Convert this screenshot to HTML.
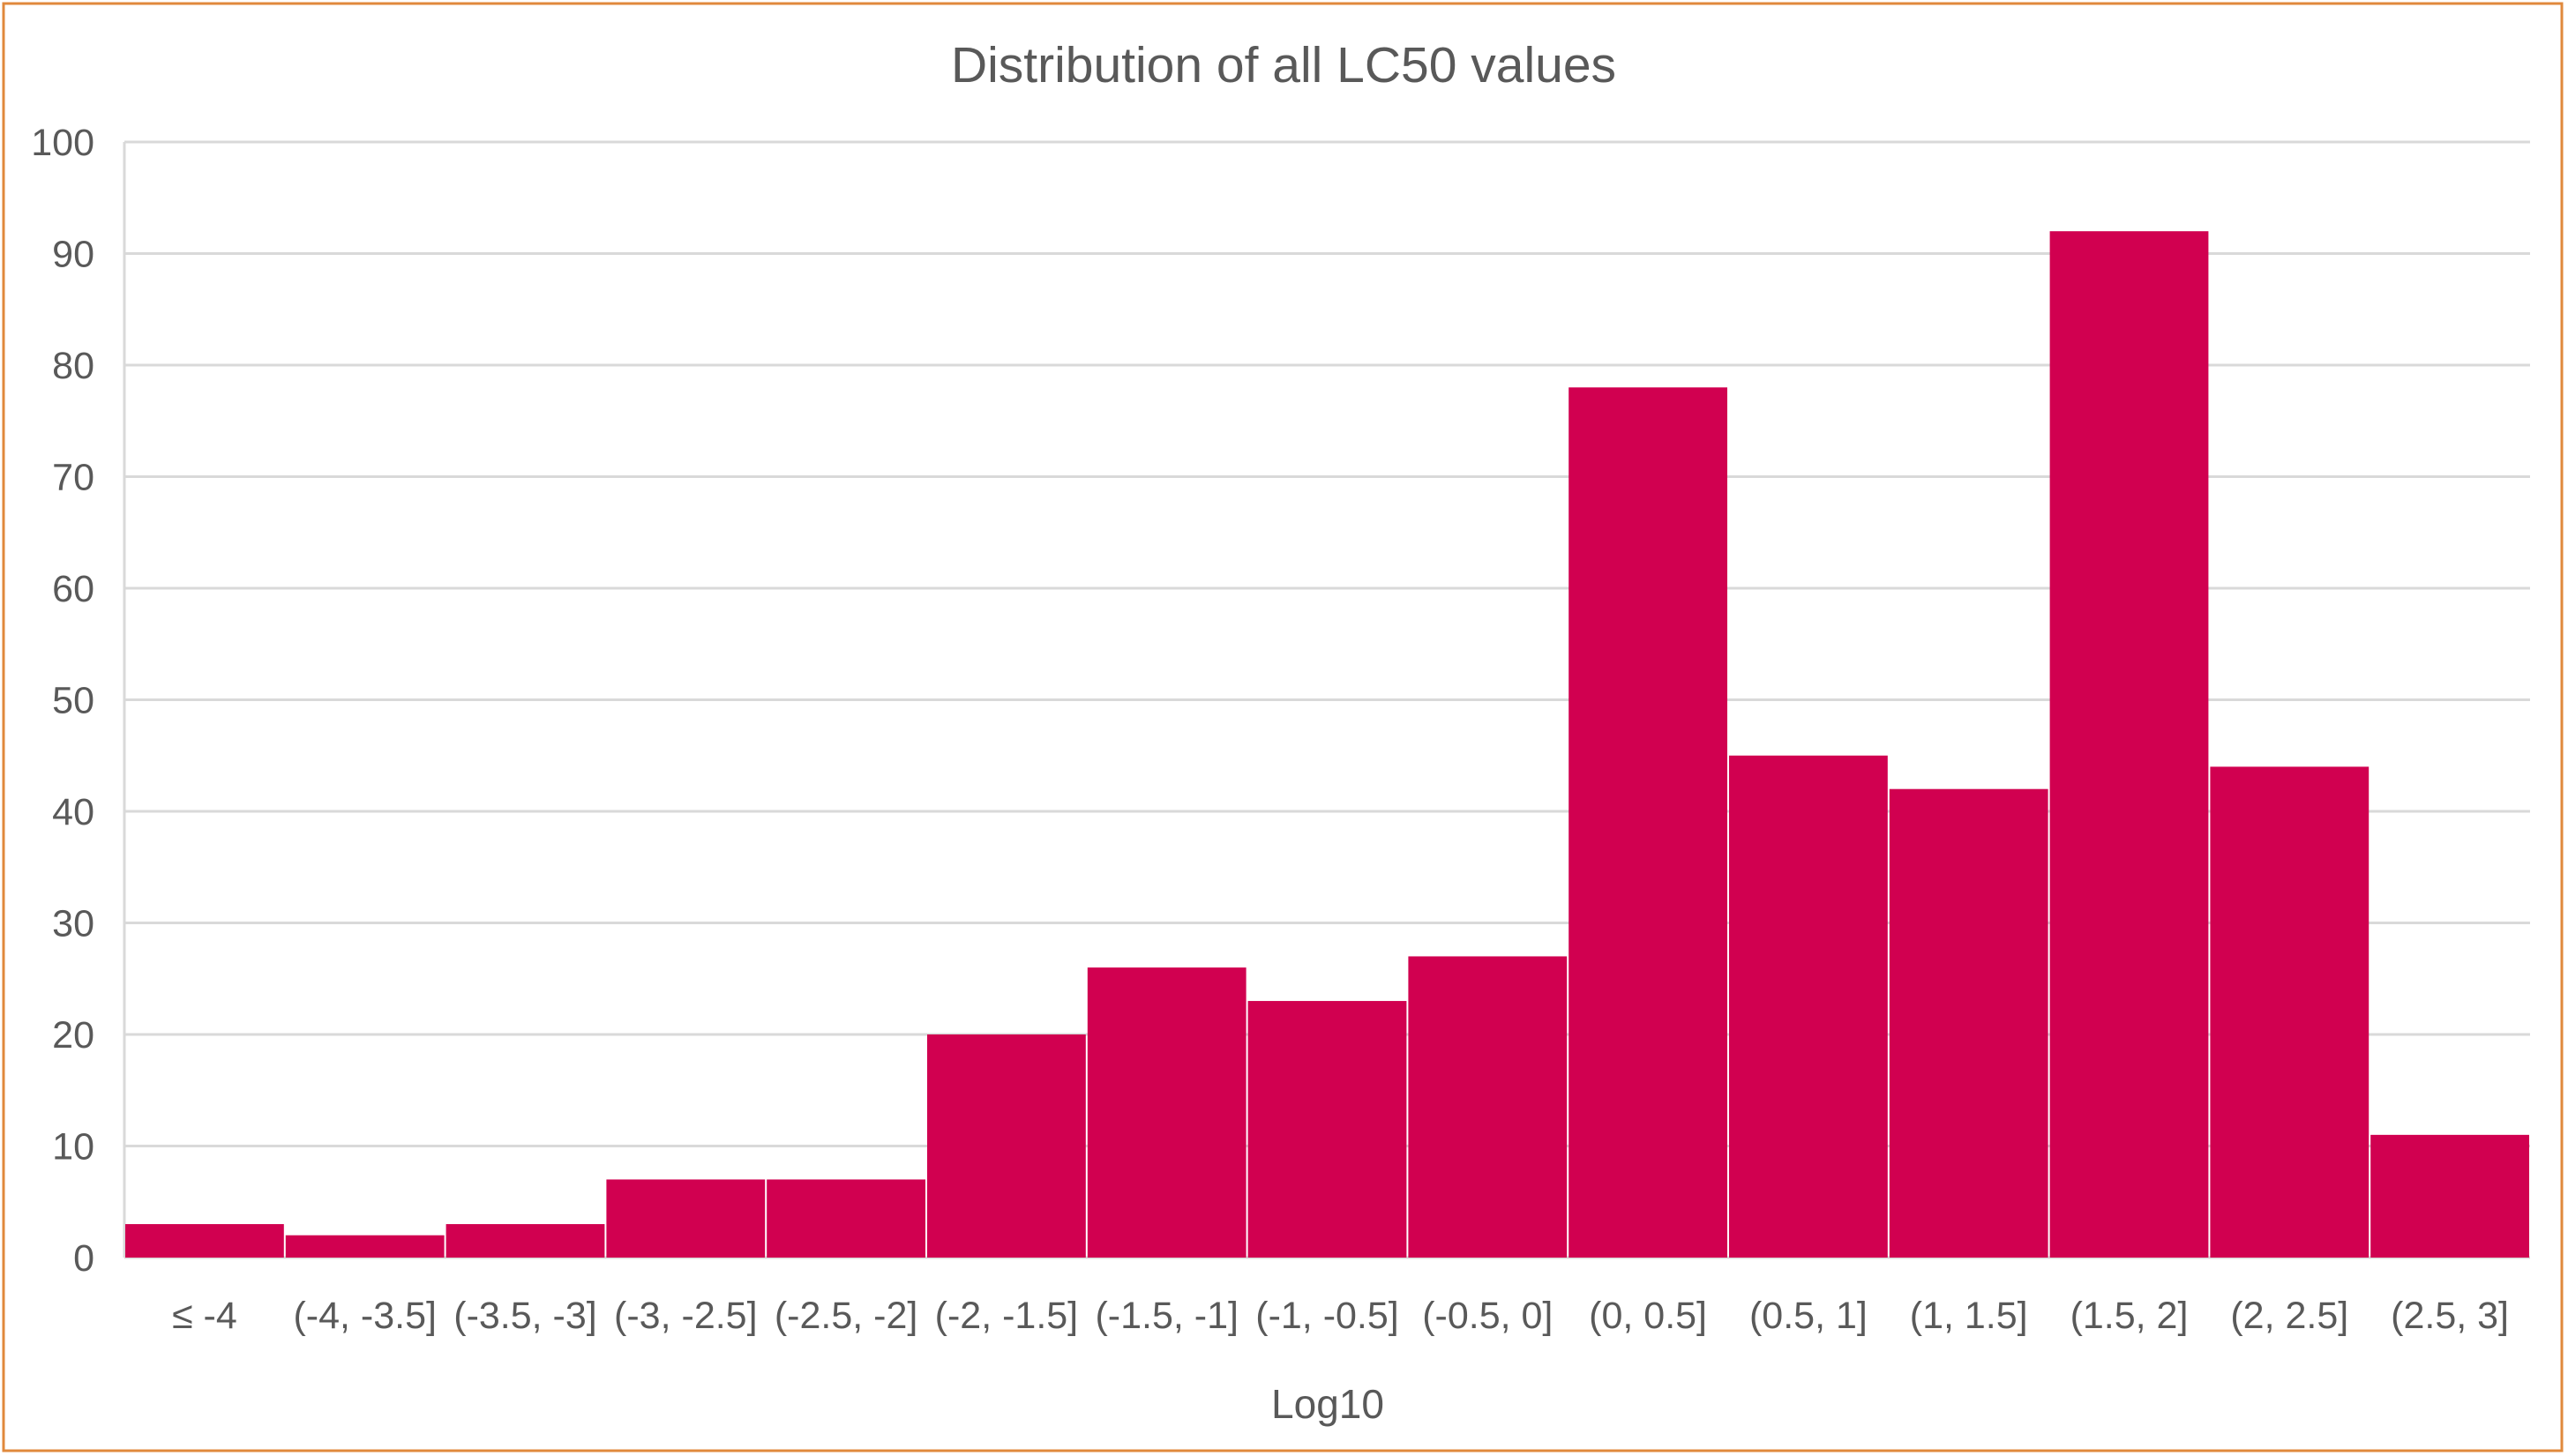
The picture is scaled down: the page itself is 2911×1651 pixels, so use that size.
<!DOCTYPE html>
<html><head><meta charset="utf-8"><style>
html,body{margin:0;padding:0;background:#fff;}
svg{display:block;font-family:"Liberation Sans",sans-serif;}
</style></head><body>
<svg id="chart" width="2911" height="1651" viewBox="0 0 2911 1651" xmlns="http://www.w3.org/2000/svg">
<rect x="4" y="4" width="2900" height="1641" fill="#fff" stroke="#E0893C" stroke-width="3"/>
<text x="1455" y="93" text-anchor="middle" font-size="57" fill="#595959">Distribution of all LC50 values</text>
<g id="grid"></g><g id="bars"></g><g id="ylabels"></g><g id="xlabels"></g>
<text x="1505" y="1608" text-anchor="middle" font-size="46" fill="#595959">Log10</text>
</svg>
<script>
const categories = ["≤ -4","(-4, -3.5]","(-3.5, -3]","(-3, -2.5]","(-2.5, -2]","(-2, -1.5]","(-1.5, -1]","(-1, -0.5]","(-0.5, 0]","(0, 0.5]","(0.5, 1]","(1, 1.5]","(1.5, 2]","(2, 2.5]","(2.5, 3]"];
const counts = [3,2,3,7,7,20,26,23,27,78,45,42,92,44,11];
const yTicks = [0,10,20,30,40,50,60,70,80,90,100];
const NS="http://www.w3.org/2000/svg";
const L=141,R=2868,T=161,B=1426,yMax=100;
const y=v=>B-(v/yMax)*(B-T);
const bw=(R-L)/categories.length;
const x=i=>L+i*bw;
function mk(t,a,p){const e=document.createElementNS(NS,t);for(const k in a)e.setAttribute(k,a[k]);document.getElementById(p).appendChild(e);return e;}
yTicks.forEach(v=>{
  const g=mk('line',{x1:L,x2:R,y1:y(v),y2:y(v),stroke:'#d9d9d9','stroke-width':3},'grid');
  
  
  const t=mk('text',{x:107,y:y(v)+15,'text-anchor':'end','font-size':43,fill:'#595959'},'ylabels');
  t.textContent=v;
  
  
});
const ax=mk('line',{x1:L,x2:L,y1:T,y2:B,stroke:'#d9d9d9','stroke-width':3},'grid');


counts.forEach((c,i)=>{
  const r=mk('rect',{x:x(i)+1,y:y(c),width:bw-2,height:B-y(c),fill:'#D10050'},'bars');
  
  
  const t=mk('text',{x:x(i)+bw/2,y:1506,'text-anchor':'middle','font-size':43,fill:'#595959'},'xlabels');
  t.textContent=categories[i];
  
  
});
</script>
</body></html>
